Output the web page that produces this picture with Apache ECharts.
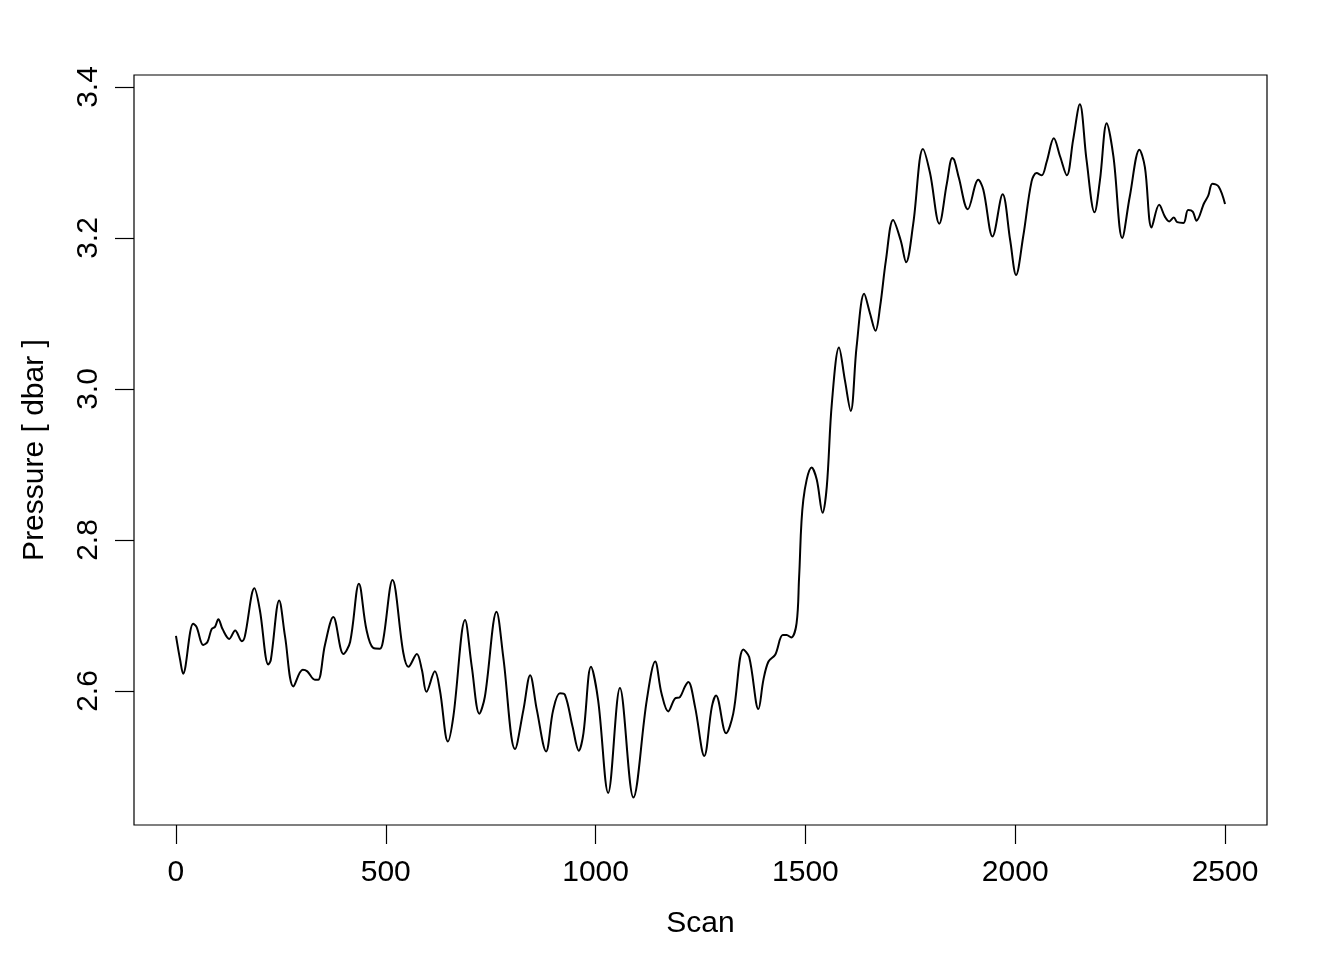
<!DOCTYPE html>
<html>
<head>
<meta charset="utf-8">
<title>Pressure vs Scan</title>
<script src="https://cdn.jsdelivr.net/npm/echarts@6/dist/echarts.min.js"></script>
<style>
  html, body { margin: 0; padding: 0; background: #fff; }
</style>
</head>
<body>
<div id="chart" style="width: 1344px; height: 960px;"></div>
<script>
// values (scan number, pressure in dbar)
var scan = [
  0, 10, 17, 41, 49, 65, 75, 85, 93, 101, 111, 127, 141, 157, 164, 187, 200, 220, 226, 246,
  260, 280, 302, 313, 331, 339, 355, 375, 399, 415, 436, 454, 470, 486, 494, 516, 542, 554, 574, 586,
  597, 617, 629, 648, 661, 689, 705, 723, 736, 764, 780, 808, 828, 844, 860, 882, 899, 915, 927, 945,
  960, 971, 989, 1006, 1030, 1058, 1090, 1122, 1142, 1157, 1173, 1189, 1201, 1213, 1221, 1237, 1259, 1277, 1287, 1311,
  1328, 1352, 1366, 1388, 1400, 1412, 1428, 1446, 1455, 1466, 1479, 1485, 1495, 1515, 1527, 1541, 1551, 1563, 1580, 1594,
  1608, 1622, 1640, 1654, 1667, 1678, 1692, 1709, 1727, 1740, 1757, 1780, 1797, 1819, 1837, 1850, 1855, 1866, 1887, 1912,
  1924, 1946, 1970, 1988, 2002, 2019, 2039, 2051, 2063, 2075, 2092, 2107, 2123, 2138, 2154, 2170, 2189, 2202, 2218, 2234,
  2255, 2273, 2296, 2309, 2325, 2343, 2357, 2367, 2378, 2386, 2401, 2412, 2423, 2432, 2450, 2460, 2470, 2485, 2500
];
var pressure = [
  2.673, 2.641, 2.623, 2.689, 2.685, 2.661, 2.665, 2.682, 2.685, 2.695, 2.682, 2.669, 2.680, 2.666, 2.672, 2.736, 2.707, 2.635, 2.641, 2.720,
  2.672, 2.606, 2.628, 2.626, 2.615, 2.615, 2.661, 2.698, 2.649, 2.665, 2.742, 2.681, 2.657, 2.656, 2.668, 2.747, 2.650, 2.632, 2.649, 2.628,
  2.599, 2.626, 2.601, 2.533, 2.566, 2.694, 2.632, 2.570, 2.592, 2.705, 2.645, 2.523, 2.575, 2.621, 2.575, 2.520, 2.575, 2.597, 2.595, 2.553,
  2.521, 2.544, 2.632, 2.588, 2.465, 2.604, 2.459, 2.588, 2.639, 2.597, 2.573, 2.590, 2.592, 2.606, 2.612, 2.579, 2.514, 2.579, 2.594, 2.544,
  2.570, 2.655, 2.645, 2.576, 2.615, 2.639, 2.648, 2.674, 2.674, 2.671, 2.690, 2.751, 2.853, 2.896, 2.880, 2.836, 2.871, 2.981, 3.055, 3.012,
  2.971, 3.056, 3.126, 3.100, 3.077, 3.109, 3.171, 3.224, 3.197, 3.168, 3.219, 3.318, 3.286, 3.219, 3.272, 3.306, 3.303, 3.279, 3.238, 3.277,
  3.264, 3.202, 3.258, 3.197, 3.151, 3.202, 3.275, 3.286, 3.283, 3.301, 3.332, 3.308, 3.283, 3.330, 3.377, 3.303, 3.234, 3.277, 3.352, 3.308,
  3.200, 3.255, 3.317, 3.294, 3.214, 3.244, 3.228, 3.222, 3.227, 3.221, 3.220, 3.237, 3.235, 3.223, 3.246, 3.256, 3.272, 3.268, 3.245
];
var xTicks = [0, 500, 1000, 1500, 2000, 2500];
var yTicks = [2.6, 2.8, 3.0, 3.2, 3.4];

var chart = echarts.init(document.getElementById('chart'));
var font = 'Liberation Sans, Arial, Helvetica, sans-serif';

var option = {
  animation: false,
  backgroundColor: '#ffffff',
  grid: {
    left: 134, right: 77, top: 75, bottom: 135,
    show: true, borderColor: '#000', borderWidth: 1.2, backgroundColor: 'transparent'
  },
  xAxis: {
    type: 'value',
    min: -100, max: 2600,
    name: 'Scan',
    nameLocation: 'middle',
    nameGap: 84,
    nameTextStyle: { fontSize: 30, color: '#000', fontFamily: font },
    axisLine: { show: false, onZero: false },
    axisTick: { show: true, length: 19, customValues: xTicks, lineStyle: { color: '#000', width: 1.2 } },
    axisLabel: {
      customValues: xTicks, fontSize: 30, color: '#000', fontFamily: font, margin: 33,
      formatter: function (v) { return String(v); }
    },
    splitLine: { show: false }
  },
  yAxis: {
    type: 'value',
    min: 2.4225, max: 3.4159,
    name: 'Pressure [ dbar ]',
    nameLocation: 'middle',
    nameGap: 84,
    nameTextStyle: { fontSize: 30, color: '#000', fontFamily: font },
    axisLine: { show: false, onZero: false },
    axisTick: { show: true, length: 19, customValues: yTicks, lineStyle: { color: '#000', width: 1.2 } },
    axisLabel: {
      customValues: yTicks, rotate: 90, fontSize: 30, color: '#000', fontFamily: font, margin: 30,
      formatter: function (v) { return v.toFixed(1); }
    },
    splitLine: { show: false }
  },
  series: [{
    type: 'line',
    data: scan.map(function (s, i) { return [s, pressure[i]]; }),
    showSymbol: false,
    smooth: 0.35,
    lineStyle: { color: '#000', width: 2 }
  }]
};

chart.setOption(option);
</script>
</body>
</html>
